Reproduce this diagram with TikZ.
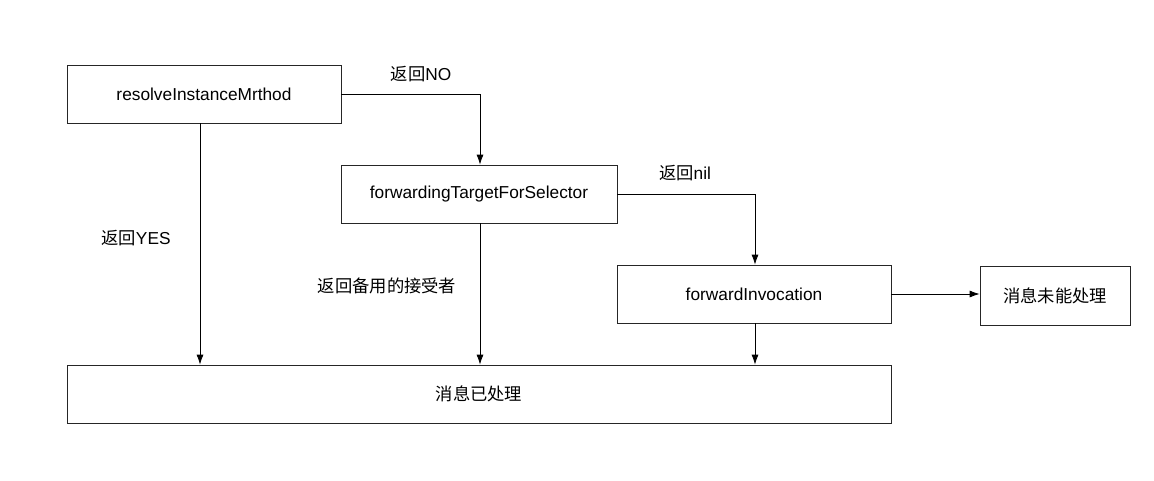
\documentclass[tikz,border=0pt]{standalone}
\usepackage{fontspec}
\setmainfont{Liberation Sans}
\newfontfamily\zh{Noto Sans CJK SC}
\usetikzlibrary{arrows.meta,positioning}
\begin{document}
\begin{tikzpicture}[x=1pt,y=-1pt,
  box/.style={draw=black!85, line width=0.8pt, minimum height=58pt, inner sep=0pt, font=\fontsize{17.3}{20}\selectfont},
  lbl/.style={font=\fontsize{17.3}{20}\selectfont, inner sep=0pt},
  conn/.style={draw=black, line width=0.8pt, -{Latex[length=10pt,width=7pt]}}]
\useasboundingbox (0,0) rectangle (1154,480);
\node[box, minimum width=274pt] (a) at (204,94) {resolveInstanceMrthod};
\node[box, minimum width=276pt] (b) at (479,194) {forwardingTargetForSelector};
\node[box, minimum width=274pt] (c) at (754,294) {forwardInvocation};
\node[box, minimum width=150pt, minimum height=59pt] (d) at (1055,296) {\zh 消息未能处理};
\node[box, minimum width=824pt] (e) at (479,394) {\zh 消息已处理};
\coordinate (k1) at (480,94);
\coordinate (k2) at (755,194);
\draw[conn] (a.east) -- (k1) -- (b.north -| k1);
\draw[conn] (b.east) -- (k2) -- (c.north -| k2);
\draw[conn] (a.south -| 200,0) -- (e.north -| 200,0);
\draw[conn] (b.south -| 480,0) -- (e.north -| 480,0);
\draw[conn] (c.south -| 755,0) -- (e.north -| 755,0);
\draw[conn] (c.east) -- (d.west |- c.east);
\node[lbl] (l1) at (421,74) {{\zh 返回}NO};
\node[lbl] (l2) at (685,173) {{\zh 返回}nil};
\node[lbl] (l3) at (136,238) {{\zh 返回}YES};
\node[lbl] (l4) at (387,286) {\zh 返回备用的接受者};
\end{tikzpicture}
\end{document}
